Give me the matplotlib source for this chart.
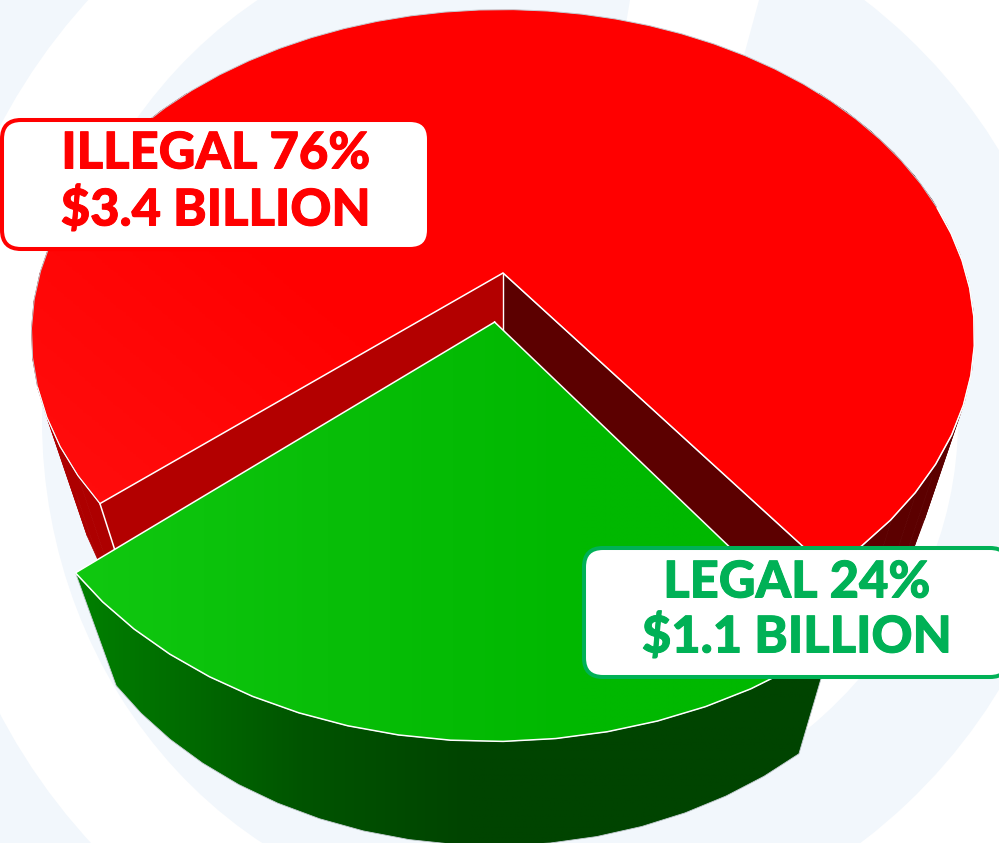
import numpy as np
import matplotlib
matplotlib.use("Agg")
import matplotlib.pyplot as plt
import matplotlib.patheffects as pe
from matplotlib.colors import LinearSegmentedColormap
from matplotlib.patches import Ellipse, FancyBboxPatch, Polygon, Rectangle

# chart values
categories = ["ILLEGAL", "LEGAL"]
shares = [76, 24]
billions = [3.4, 1.1]

PALE = "#f2f7fc"
RED = "#ff0000"
GREEN_TEXT = "#00b156"
OUTLINE = "#c4ccd2"

# pie geometry: a disc seen in perspective, in pixels of the 999x843 picture
X0, Y0 = 503, 273
SCALE_X, SCALE_Y = 463, 261.6
TILT = -0.19
DEPTH_Y, DEPTH_W = 156.5, 0.089
LEGAL_LEFT = 49.8   # degrees left of the near side
EXPLODE = 0.153
RIM_SHIFT = 0.012
STEP = 5


def project(u, v, h=0):
    w = 1 + TILT * v + DEPTH_W * h
    return X0 + SCALE_X * u / w, (Y0 + SCALE_Y * v + DEPTH_Y * h) / w


def rim(start, end, off=(0, 0), h=0):
    # angle 0 is the near side, positive goes to the left
    n = max(int(abs(end - start) / STEP), 1)
    a = np.radians(np.linspace(start, end, n + 1))
    return np.column_stack(project(-np.sin(a) + off[0], np.cos(a) + off[1], h))


def gradient_face(ax, pts, colors, zorder, slant=0.0):
    # polygon filled with a soft shading, clipped image underneath
    poly = Polygon(pts, closed=True, fc="none", ec="none", zorder=zorder)
    ax.add_patch(poly)
    x0, x1 = pts[:, 0].min(), pts[:, 0].max()
    y0, y1 = pts[:, 1].min(), pts[:, 1].max()
    xs, ys = np.meshgrid(np.linspace(0, 1, 300), np.linspace(0, 1, 300))
    t = np.clip(xs + slant * (1 - ys), 0, 1)
    cmap = LinearSegmentedColormap.from_list("face", colors)
    img = ax.imshow(t, cmap=cmap, vmin=0, vmax=1, aspect="auto", extent=(x0, x1, y1, y0), zorder=zorder)
    img.set_clip_path(poly)


fig = plt.figure(figsize=(9.99, 8.43), dpi=100, facecolor="white")
ax = fig.add_axes([0, 0, 1, 1])
ax.set_axis_off()

# pale curved bands behind the pie
clip_left = Rectangle((0, 0), 630, 843, transform=ax.transData)
clip_right = Rectangle((630, 0), 369, 843, transform=ax.transData)
clip_low = Rectangle((630, 300), 369, 543, transform=ax.transData)
bg = [
    (Rectangle((0, 0), 999, 843, fc=PALE, ec="none"), clip_left),
    (Ellipse((500, 420), 2 * 572, 2 * 605, fc="white", ec="none"), clip_left),
    (Ellipse((500, 420), 2 * 458, 2 * 495, fc=PALE, ec="none"), clip_left),
    (Ellipse((500, 420), 2 * 575, 2 * 543, fc=PALE, ec="none"), clip_right),
    (Ellipse((500, 420), 2 * 458, 2 * 417, fc="white", ec="none"), clip_low),
]
for patch, clip in bg:
    ax.add_patch(patch)
    patch.set_clip_path(clip)
    patch.set_zorder(0)
ax.add_patch(Polygon([(630, 0), (625, 30), (740, 70), (759, 0)], fc="white", ec="none", zorder=0))

# slice angles come from the shares
legal_span = 360 * shares[1] / sum(shares)
legal_start = -(legal_span - LEGAL_LEFT)
legal_end = LEGAL_LEFT
mid = np.radians(0.5 * (legal_start + legal_end))
legal_off = (-EXPLODE * np.sin(mid), EXPLODE * np.cos(mid))
legal_rim_off = (legal_off[0], legal_off[1] + RIM_SHIFT)

# illegal slice: outer wall on both sides of the gap
for a0, a1, c in [(legal_end, 130, "#ad0000"), (legal_start, -130, "#5c0000")]:
    top = rim(a0, a1)
    low = rim(a0, a1, h=1)
    for i in range(len(top) - 1):
        ax.add_patch(Polygon([top[i], top[i + 1], low[i + 1], low[i]], closed=True,
                             fc=c, ec=c, lw=0.5, zorder=1))

# inner walls of the gap
apex = np.array(project(0, 0))
apex_low = np.array(project(0, 0, 1))
red_left = rim(legal_end, legal_end + 1)[0]
red_left_low = rim(legal_end, legal_end + 1, h=1)[0]
red_right = rim(legal_start, legal_start + 1)[0]
red_right_low = rim(legal_start, legal_start + 1, h=1)[0]
ax.add_patch(Polygon([apex, red_left, red_left_low, apex_low], fc="#b30000", ec="none", zorder=2))
ax.add_patch(Polygon([apex, red_right, red_right_low, apex_low], fc="#5c0000", ec="none", zorder=2))
ax.plot([red_left[0], red_left_low[0]], [red_left[1], red_left_low[1]], color="white", lw=1.1, zorder=2.5)
ax.plot([apex[0], apex_low[0]], [apex[1], apex_low[1]], color="white", lw=1.0, zorder=2.5)

# illegal top face
red_rim = rim(legal_end, 360 + legal_start)
red_top = np.vstack([red_rim, apex])
gradient_face(ax, red_top, ["#ff1010", "#ff0808", "#ff0000", "#ff0000"], 3, slant=0.7)
ax.plot(red_top[:, 0], red_top[:, 1], color=OUTLINE, lw=0.7, zorder=3)
# white edges on the near side of the illegal slice
near = np.vstack([red_rim[-14:], apex, red_rim[:1]])
ax.plot(near[:, 0], near[:, 1], color="white", lw=1.1, zorder=4)
ax.plot(red_rim[:5, 0], red_rim[:5, 1], color="white", lw=0.8, zorder=4)

# legal slice pulled out towards the viewer
legal_rim = rim(legal_end, legal_start, legal_rim_off)
legal_low = rim(legal_end, legal_start, legal_rim_off, h=1)
wall_pts = np.vstack([legal_rim, legal_low[::-1]])
gradient_face(ax, wall_pts, [(0, "#008000"), (0.3, "#005400"), (0.52, "#004400"), (1, "#004400")], 5)
ax.add_patch(Polygon(wall_pts, closed=True, fc="none", ec=OUTLINE, lw=0.6, zorder=5))

legal_apex = np.array(project(legal_off[0], legal_off[1]))
legal_top = np.vstack([legal_apex, legal_rim])
gradient_face(ax, legal_top, ["#10c810", "#08be08", "#00b800", "#00b800"], 6)
ax.plot(np.append(legal_top[:, 0], legal_apex[0]), np.append(legal_top[:, 1], legal_apex[1]),
        color="white", lw=1.1, zorder=7)

# label boxes
boxes = [
    (2, 120, 427, 129, RED, 216, 154, 210),
    (584, 548, 425, 129, GREEN_TEXT, 797, 583, 637),
]
for i, (x, y, bw, bh, col, tx, ty1, ty2) in enumerate(boxes):
    ax.add_patch(FancyBboxPatch((x, y), bw, bh, boxstyle="round,pad=0,rounding_size=19",
                                fc="white", ec=col, lw=2.9, zorder=8, clip_on=False))
    for ty, s in [(ty1, f"{categories[i]} {shares[i]}%"), (ty2, f"${billions[i]} BILLION")]:
        ax.text(tx, ty, s, color=col, fontsize=36.5, family="Lato", fontweight="black",
                ha="center", va="center", zorder=9,
                path_effects=[pe.withStroke(linewidth=0.7, foreground=col)])

ax.set_xlim(0, 999)
ax.set_ylim(843, 0)

fig.savefig("out.png", dpi=100, facecolor="white")
